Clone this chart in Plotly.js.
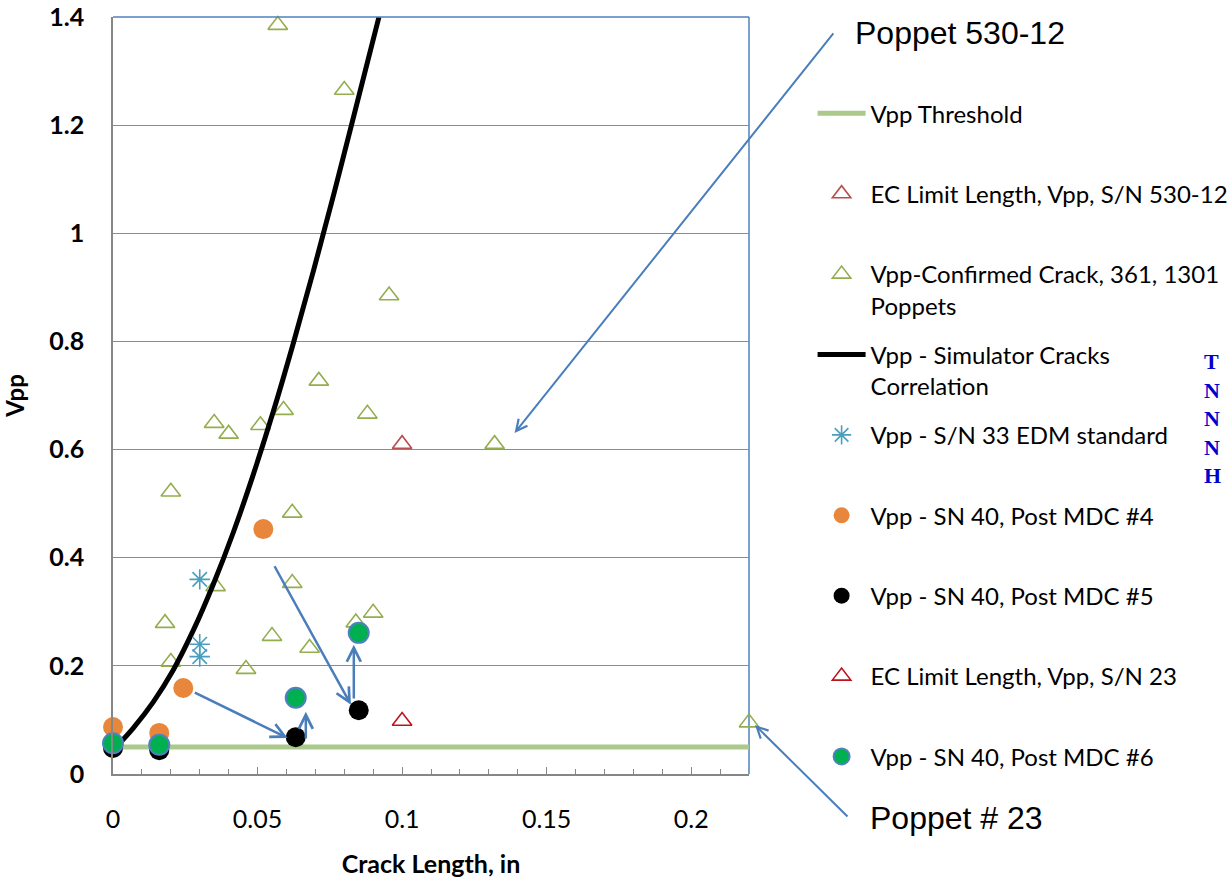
<!DOCTYPE html>
<html>
<head>
<meta charset="utf-8">
<script src="https://cdn.plot.ly/plotly-3.0.1.min.js"></script>
<style>html,body{margin:0;padding:0;background:#fff;}#chart{width:1228px;height:883px;}</style>
</head>
<body>
<div id="chart"></div>
<script>
// ---- data ----
const thresholdX = [0, 0.22];
const thresholdY = [0.05, 0.05];

const ec530X = [0.1];
const ec530Y = [0.61];

const confirmedX = [0.057, 0.080, 0.0955, 0.0712, 0.059, 0.088, 0.035, 0.040, 0.051, 0.020, 0.062, 0.132, 0.0355, 0.062, 0.090, 0.084, 0.018, 0.055, 0.068, 0.020, 0.046, 0.22];
const confirmedY = [1.385, 1.265, 0.885, 0.727, 0.673, 0.666, 0.649, 0.629, 0.645, 0.522, 0.483, 0.610, 0.347, 0.353, 0.298, 0.280, 0.279, 0.255, 0.233, 0.207, 0.194, 0.095];

const simX = [0, 0.007, 0.0139, 0.0208, 0.0278, 0.0347, 0.0417, 0.0486, 0.0556, 0.0625, 0.0694, 0.0764, 0.0833, 0.092];
const simY = [0.044, 0.085, 0.133, 0.192, 0.266, 0.351, 0.448, 0.555, 0.673, 0.799, 0.932, 1.073, 1.217, 1.4];

const edmX = [0.03, 0.03, 0.03];
const edmY = [0.36, 0.24, 0.217];

const mdc4X = [0.052, 0.0243, 0, 0.016];
const mdc4Y = [0.453, 0.159, 0.087, 0.076];

const mdc5X = [0, 0.016, 0.0632, 0.085];
const mdc5Y = [0.048, 0.044, 0.068, 0.118];

const ec23X = [0.1];
const ec23Y = [0.098];

const mdc6X = [0, 0.016, 0.0632, 0.085];
const mdc6Y = [0.057, 0.054, 0.141, 0.261];

const legendNames = [
  'Vpp Threshold<br>\u00a0',
  'EC Limit Length, Vpp, S/N 530-12<br>\u00a0',
  'Vpp-Confirmed Crack, 361, 1301<br>Poppets',
  'Vpp - Simulator Cracks<br>Correlation',
  'Vpp - S/N 33 EDM standard<br>\u00a0',
  'Vpp - SN 40, Post MDC #4<br>\u00a0',
  'Vpp - SN 40, Post MDC #5<br>\u00a0',
  'EC Limit Length, Vpp, S/N 23<br>\u00a0',
  'Vpp - SN 40, Post MDC #6<br>\u00a0'
];

const xTickVals = [0, 0.05, 0.1, 0.15, 0.2];
const yTickVals = [0, 0.2, 0.4, 0.6, 0.8, 1, 1.2, 1.4];

// arrows inside the plot: [tailX, tailY, tipX, tipY]
const arrowsData = [
  [0.0278, 0.152, 0.0604, 0.0666],
  [0.0667, 0.063, 0.0667, 0.115],
  [0.0556, 0.387, 0.0823, 0.128],
  [0.0833, 0.137, 0.0833, 0.239]
];

const ARROW = '#4A7EBB';
const TRI = 'triangle-up-open';

const traces = [
  {x: thresholdX, y: thresholdY, mode: 'lines', line: {color: '#AAC98A', width: 5}},
  {x: ec530X, y: ec530Y, mode: 'markers', marker: {symbol: TRI, size: 17, color: '#B5504D', line: {width: 1.6, color: '#B5504D'}}},
  {x: confirmedX, y: confirmedY, mode: 'markers', cliponaxis: false, marker: {symbol: TRI, size: 17, color: '#93AD4F', line: {width: 1.6, color: '#93AD4F'}}},
  {x: simX, y: simY, mode: 'lines', line: {color: '#000000', width: 5, shape: 'spline', smoothing: 1}},
  {x: edmX, y: edmY, mode: 'markers', marker: {symbol: 'asterisk-open', size: 17, color: '#4A9FBF', line: {width: 1.6, color: '#4A9FBF'}}},
  {x: mdc4X, y: mdc4Y, mode: 'markers', cliponaxis: false, marker: {symbol: 'circle', size: 20, color: '#E8873B', line: {width: 0}}},
  {x: mdc5X, y: mdc5Y, mode: 'markers', cliponaxis: false, marker: {symbol: 'circle', size: 20, color: '#000000', line: {width: 0}}},
  {x: ec23X, y: ec23Y, mode: 'markers', marker: {symbol: TRI, size: 17, color: '#C0121E', line: {width: 1.6, color: '#C0121E'}}},
  {x: mdc6X, y: mdc6Y, mode: 'markers', cliponaxis: false, marker: {symbol: 'circle', size: 20, color: '#00B050', line: {width: 2, color: '#4F81BD'}}}
];
traces.forEach((t, i) => { t.type = 'scatter'; t.name = legendNames[i]; t.legendgroup = 'g' + i; t.hoverinfo = 'x+y'; });

const annotations = arrowsData.map(a => ({
  x: a[2], y: a[3], xref: 'x', yref: 'y', ax: a[0], ay: a[1], axref: 'x', ayref: 'y',
  text: '', showarrow: true, arrowhead: 5, arrowsize: 1.1, arrowwidth: 2.5, arrowcolor: ARROW
}));
// callout arrows
annotations.push({x: 0.1389, y: 0.6307, xref: 'x', yref: 'y', ax: 320, ay: -401, axref: 'pixel', ayref: 'pixel',
  text: '', showarrow: true, arrowhead: 5, arrowsize: 1.1, arrowwidth: 2, arrowcolor: ARROW});
annotations.push({x: 1.0094, y: 0.0647, xref: 'paper', yref: 'paper', ax: 94, ay: 93, axref: 'pixel', ayref: 'pixel',
  text: '', showarrow: true, arrowhead: 5, arrowsize: 1.1, arrowwidth: 2, arrowcolor: ARROW});
// callout texts
annotations.push({x: 1.1635, y: 0.979, xref: 'paper', yref: 'paper', xanchor: 'left', yanchor: 'middle', showarrow: false,
  text: 'Poppet 530-12', font: {family: 'Liberation Sans, Arial, sans-serif', size: 32, color: '#000'}});
annotations.push({x: 1.187, y: -0.0581, xref: 'paper', yref: 'paper', xanchor: 'left', yanchor: 'middle', showarrow: false,
  text: 'Poppet # 23', font: {family: 'Liberation Sans, Arial, sans-serif', size: 32, color: '#000'}});
// cut-off blue note at right edge
annotations.push({x: 1.712, y: 0.47, xref: 'paper', yref: 'paper', xanchor: 'left', yanchor: 'middle', align: 'left', showarrow: false,
  text: 'T<br>N<br>N<br>N<br>H', font: {family: 'Liberation Serif, Times New Roman, serif', size: 22, color: '#0000CC', weight: 'bold'}});

const layout = {
  width: 1228, height: 883,
  paper_bgcolor: '#ffffff', plot_bgcolor: '#ffffff',
  margin: {l: 113, r: 479, t: 17, b: 109, pad: 0, autoexpand: false},
  font: {family: 'Lato, Open Sans, sans-serif', color: '#000'},
  showlegend: true,
  legend: {
    x: 1.1, y: 0.902, xanchor: 'left', yanchor: 'top', valign: 'top',
    font: {family: 'Lato, sans-serif', size: 24, color: '#000'},
    tracegroupgap: 15, bgcolor: 'rgba(0,0,0,0)', borderwidth: 0, itemsizing: 'trace', itemwidth: 48
  },
  xaxis: {
    range: [0, 0.22], tickvals: xTickVals, ticktext: xTickVals.map(String),
    showgrid: false, zeroline: false, showline: true, linecolor: '#868686', linewidth: 1.5,
    ticks: 'inside', ticklen: 7, tickcolor: '#868686', tickwidth: 1.3,
    minor: {dtick: 0.01, ticks: 'inside', ticklen: 5, tickcolor: '#868686', tickwidth: 1.3},
    tickfont: {family: 'Lato, sans-serif', size: 25, color: '#000'},
    ticklabelstandoff: 22,
    title: {text: 'Crack Length, in', font: {family: 'Lato, sans-serif', size: 25, color: '#000', weight: 'bold'}, standoff: 24}
  },
  yaxis: {
    range: [0, 1.4], tickvals: yTickVals, ticktext: yTickVals.map(String),
    showgrid: true, gridcolor: '#8C8C8C', gridwidth: 1.4, zeroline: false,
    showline: true, linecolor: '#868686', linewidth: 1.5, ticks: '',
    tickfont: {family: 'Lato, sans-serif', size: 25, color: '#000', weight: 'bold'},
    ticklabelstandoff: 22,
    title: {text: 'Vpp', font: {family: 'Lato, sans-serif', size: 24, color: '#000', weight: 'bold'}, standoff: 22}
  },
  shapes: [
    {type: 'line', xref: 'paper', yref: 'paper', x0: 0, x1: 1, y0: 1, y1: 1, line: {color: '#4F81BD', width: 1.5}, layer: 'above'},
    {type: 'line', xref: 'paper', yref: 'paper', x0: 1, x1: 1, y0: 0, y1: 1, line: {color: '#4F81BD', width: 1.5}, layer: 'below'}
  ],
  annotations: annotations
};

Plotly.newPlot('chart', traces, layout, {displayModeBar: false, responsive: false});
</script>
</body>
</html>
